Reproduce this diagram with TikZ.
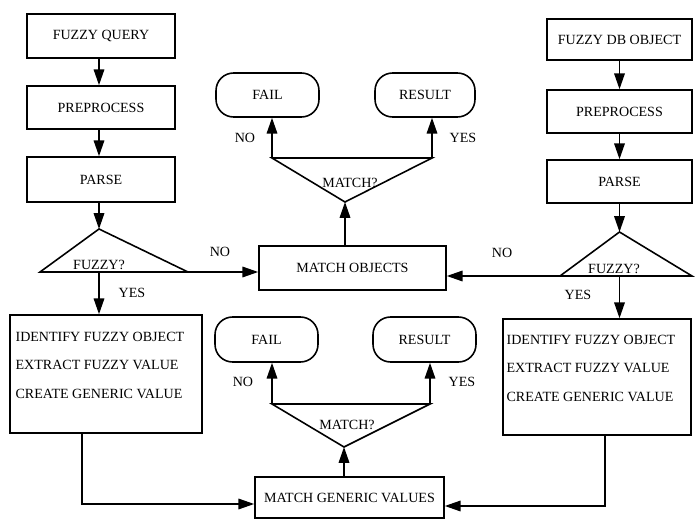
\documentclass[tikz,border=0pt]{standalone}
\usepackage{fontspec}
\setmainfont{Liberation Serif}
\usetikzlibrary{arrows.meta}

\tikzset{
  procbox/.style={draw, line width=0.9pt, minimum width=2.96cm, minimum height=0.86cm, inner sep=1pt},
  endbox/.style={draw, line width=0.9pt, rounded corners=10pt, minimum width=2.06cm, minimum height=0.88cm},
  flow/.style={line width=0.9pt, -{Triangle[length=9pt,width=6pt]}},
  plain/.style={line width=0.9pt},
  lbl/.style={inner sep=0pt},
}

\begin{document}
\begin{tikzpicture}[x=0.02cm, y=-0.02cm, font=\fontsize{8}{16}\selectfont]
        \useasboundingbox (0,0) rectangle (700,520);
        % left column
        \node[procbox, minimum height=0.88cm] (query) at (101,36) {FUZZY QUERY};
        \node[procbox] (prepL) at (101,107.5) {PREPROCESS};
        \node[procbox, minimum height=0.9cm] (parseL) at (101,179.5) {PARSE};
        \coordinate (fzL) at (99,229);
        \coordinate (fzLl) at (40,272);
        \coordinate (fzLr) at (188,272);
        \draw[plain] (fzL) -- (fzLl) -- (fzLr) -- cycle;
        \node[lbl, anchor=base] (fzLt) at (99,270) {FUZZY?};
        \node[procbox, minimum width=3.84cm, minimum height=2.36cm] (identL) at (106,374) {};
        \node[lbl, align=left, anchor=north west] (identLtxt) at ([xshift=0.12cm, yshift=-0.36cm]identL.north west) {IDENTIFY FUZZY OBJECT\\EXTRACT FUZZY VALUE\\CREATE GENERIC VALUE};
        \draw[flow] (query.south -| fzL) -- (prepL.north -| fzL);
        \draw[flow] (prepL.south -| fzL) -- (parseL.north -| fzL);
        \draw[flow] (parseL.south -| fzL) -- (fzL);
        \draw[flow] (fzL |- fzLl) -- (fzL |- identL.north);
        \node[lbl] (yesL) at (132,293) {YES};
        \node[lbl] (noL) at (220,252) {NO};

        % right column
        \node[procbox, minimum width=2.9cm, minimum height=0.82cm] (dbobj) at (619.5,39.5) {FUZZY DB OBJECT};
        \node[procbox, minimum width=2.9cm] (prepR) at (619.5,111.5) {PREPROCESS};
        \node[procbox, minimum width=2.9cm] (parseR) at (619.5,181.5) {PARSE};
        \coordinate (fzR) at (619.5,232);
        \coordinate (fzRl) at (560,276);
        \coordinate (fzRr) at (692,276);
        \draw[plain] (fzR) -- (fzRl) -- (fzRr) -- cycle;
        \node[lbl, anchor=base] (fzRt) at (614,274) {FUZZY?};
        \node[procbox, minimum width=3.76cm, minimum height=2.32cm] (identR) at (597,377) {};
        \node[lbl, align=left, anchor=north west] (identRtxt) at ([xshift=0.08cm, yshift=-0.34cm]identR.north west) {IDENTIFY FUZZY OBJECT\\EXTRACT FUZZY VALUE\\CREATE GENERIC VALUE};
        \draw[flow] (dbobj.south -| fzR) -- (prepR.north -| fzR);
        \draw[flow] (prepR.south -| fzR) -- (parseR.north -| fzR);
        \draw[flow] (parseR.south -| fzR) -- (fzR);
        \draw[flow] (fzR |- fzRl) -- (fzR |- identR.north);
        \node[lbl] (yesR) at (578,295) {YES};
        \node[lbl] (noR) at (502,253) {NO};

        % upper match
        \node[procbox, minimum width=3.74cm, minimum height=0.88cm] (mobj) at (352.5,268) {MATCH OBJECTS};
        \draw[flow] (fzLr) -- (fzLr -| mobj.west);
        \draw[flow] (fzRl) -- (fzRl -| mobj.east);
        \coordinate (mA) at (345,202);
        \coordinate (mAl) at (272,158);
        \coordinate (mAr) at (432,158);
        \draw[plain] (mA) -- (mAl) -- (mAr) -- cycle;
        \node[lbl] (mAt) at (350,183) {MATCH?};
        \node[endbox] (fail1) at (267.5,95) {FAIL};
        \node[endbox, minimum width=2cm] (res1) at (425,95) {RESULT};
        \draw[flow] (mA |- mobj.north) -- (mA);
        \draw[flow] (mAl) -- (mAl |- fail1.south);
        \draw[flow] (mAr) -- (mAr |- res1.south);
        \node[lbl] (no1) at (245,138) {NO};
        \node[lbl] (yes1) at (463,138) {YES};

        % lower match
        \node[procbox, minimum width=3.78cm, minimum height=0.82cm] (mgv) at (349.5,497.5) {MATCH GENERIC VALUES};
        \coordinate (jL) at (82,504);
        \coordinate (jR) at (605,506);
        \draw[flow] (jL |- identL.south) -- (jL) -- (jL -| mgv.west);
        \draw[flow] (jR |- identR.south) -- (jR) -- (jR -| mgv.east);
        \coordinate (mB) at (344,447);
        \coordinate (mBl) at (272,404);
        \coordinate (mBr) at (430,404);
        \draw[plain] (mB) -- (mBl) -- (mBr) -- cycle;
        \node[lbl] (mBt) at (347,425) {MATCH?};
        \node[endbox, minimum height=0.9cm] (fail2) at (266.5,339.5) {FAIL};
        \node[endbox, minimum height=0.9cm] (res2) at (424.5,339.5) {RESULT};
        \draw[flow] (mB |- mgv.north) -- (mB);
        \draw[flow] (mBl) -- (mBl |- fail2.south);
        \draw[flow] (mBr) -- (mBr |- res2.south);
        \node[lbl] (no2) at (243,382) {NO};
        \node[lbl] (yes2) at (462,382) {YES};
\end{tikzpicture}
\end{document}
